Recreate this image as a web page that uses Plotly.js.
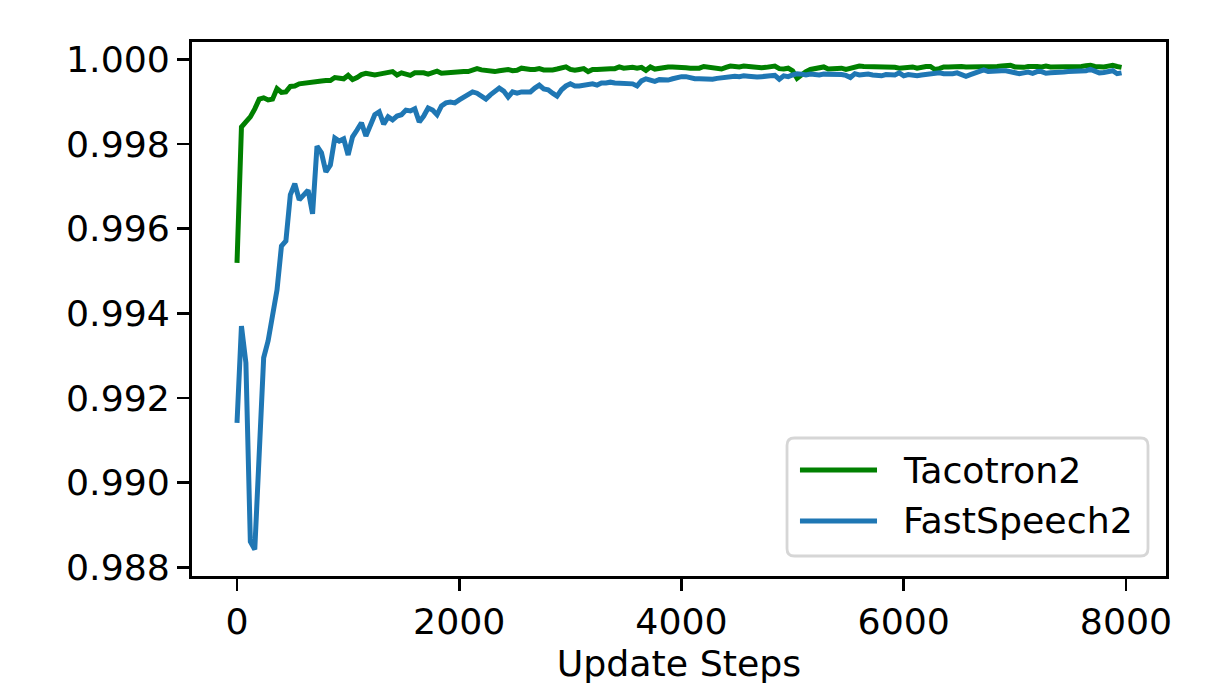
<!DOCTYPE html>
<html>
<head>
<meta charset="utf-8">
<script src="https://cdn.plot.ly/plotly-3.0.1.min.js"></script>
<style>html,body{margin:0;padding:0;background:#fff;}#chart{width:1219px;height:685px;}</style>
</head>
<body>
<div id="chart"></div>
<script>
const steps = [
0,40,80,120,160,200,240,280,320,360,
400,440,480,520,560,600,640,680,720,760,
800,840,880,920,960,1000,1040,1080,1120,1160,
1200,1240,1280,1320,1360,1400,1440,1480,1520,1560,
1600,1640,1680,1720,1760,1800,1840,1880,1920,1960,
2000,2040,2080,2120,2160,2200,2240,2280,2320,2360,
2400,2440,2480,2520,2560,2600,2640,2680,2720,2760,
2800,2840,2880,2920,2960,3000,3040,3080,3120,3160,
3200,3240,3280,3320,3360,3400,3440,3480,3520,3560,
3600,3640,3680,3720,3760,3800,3840,3880,3920,3960,
4000,4040,4080,4120,4160,4200,4240,4280,4320,4360,
4400,4440,4480,4520,4560,4600,4640,4680,4720,4760,
4800,4840,4880,4920,4960,5000,5040,5080,5120,5160,
5200,5240,5280,5320,5360,5400,5440,5480,5520,5560,
5600,5640,5680,5720,5760,5800,5840,5880,5920,5960,
6000,6040,6080,6120,6160,6200,6240,6280,6320,6360,
6400,6440,6480,6520,6560,6600,6640,6680,6720,6760,
6800,6840,6880,6920,6960,7000,7040,7080,7120,7160,
7200,7240,7280,7320,7360,7400,7440,7480,7520,7560,
7600,7640,7680,7720,7760,7800,7840,7880,7920,7960
];

const tacotron2 = [
0.99519,0.99840,0.99852,0.99864,0.99883,0.99906,0.99909,0.99904,0.99906,0.99931,
0.99922,0.99923,0.99936,0.99937,0.99942,0.99944,0.99945,0.99948,0.99949,0.99949,
0.99950,0.99950,0.99957,0.99955,0.99954,0.99962,0.99952,0.99957,0.99964,0.99967,
0.99966,0.99963,0.99965,0.99967,0.99969,0.99971,0.99963,0.99968,0.99965,0.99962,
0.99968,0.99968,0.99968,0.99965,0.99969,0.99972,0.99967,0.99968,0.99969,0.99971,
0.99971,0.99971,0.99971,0.99975,0.99978,0.99975,0.99973,0.99973,0.99971,0.99973,
0.99975,0.99976,0.99973,0.99974,0.99979,0.99977,0.99976,0.99976,0.99978,0.99975,
0.99974,0.99975,0.99977,0.99980,0.99982,0.99976,0.99974,0.99976,0.99978,0.99971,
0.99976,0.99976,0.99977,0.99979,0.99978,0.99978,0.99982,0.99979,0.99980,0.99981,
0.99979,0.99981,0.99974,0.99982,0.99977,0.99979,0.99980,0.99982,0.99982,0.99982,
0.99981,0.99980,0.99979,0.99979,0.99979,0.99983,0.99982,0.99979,0.99978,0.99977,
0.99981,0.99984,0.99983,0.99982,0.99984,0.99983,0.99982,0.99979,0.99980,0.99981,
0.99982,0.99984,0.99978,0.99977,0.99979,0.99973,0.99955,0.99965,0.99971,0.99976,
0.99979,0.99981,0.99982,0.99977,0.99978,0.99979,0.99979,0.99976,0.99979,0.99983,
0.99984,0.99983,0.99983,0.99983,0.99982,0.99982,0.99981,0.99982,0.99981,0.99979,
0.99981,0.99983,0.99982,0.99979,0.99982,0.99983,0.99983,0.99976,0.99978,0.99982,
0.99982,0.99983,0.99984,0.99983,0.99982,0.99982,0.99982,0.99982,0.99981,0.99982,
0.99983,0.99983,0.99984,0.99985,0.99986,0.99982,0.99980,0.99981,0.99983,0.99984,
0.99983,0.99982,0.99984,0.99982,0.99982,0.99982,0.99983,0.99983,0.99982,0.99984,
0.99983,0.99985,0.99986,0.99983,0.99982,0.99982,0.99984,0.99986,0.99983,0.99981
];

const fastspeech2 = [
0.99141,0.99370,0.99283,0.98861,0.98842,0.99078,0.99295,0.99335,0.99394,0.99455,
0.99559,0.99571,0.99680,0.99706,0.99668,0.99680,0.99691,0.99635,0.99795,0.99779,
0.99734,0.99750,0.99814,0.99807,0.99812,0.99774,0.99817,0.99833,0.99850,0.99819,
0.99845,0.99869,0.99876,0.99847,0.99864,0.99857,0.99866,0.99869,0.99880,0.99878,
0.99883,0.99852,0.99866,0.99885,0.99880,0.99869,0.99890,0.99897,0.99899,0.99897,
0.99904,0.99911,0.99918,0.99923,0.99920,0.99913,0.99906,0.99916,0.99923,0.99932,
0.99925,0.99911,0.99923,0.99920,0.99923,0.99923,0.99923,0.99932,0.99939,0.99930,
0.99928,0.99920,0.99913,0.99928,0.99937,0.99942,0.99937,0.99937,0.99939,0.99942,
0.99942,0.99939,0.99944,0.99944,0.99946,0.99944,0.99944,0.99944,0.99944,0.99942,
0.99937,0.99949,0.99954,0.99951,0.99948,0.99952,0.99951,0.99951,0.99954,0.99957,
0.99959,0.99959,0.99955,0.99954,0.99954,0.99954,0.99952,0.99953,0.99955,0.99957,
0.99959,0.99961,0.99960,0.99959,0.99961,0.99960,0.99958,0.99958,0.99959,0.99961,
0.99961,0.99962,0.99953,0.99961,0.99959,0.99963,0.99966,0.99965,0.99963,0.99965,
0.99964,0.99963,0.99965,0.99965,0.99965,0.99965,0.99964,0.99962,0.99957,0.99966,
0.99963,0.99964,0.99965,0.99963,0.99962,0.99961,0.99964,0.99964,0.99963,0.99968,
0.99961,0.99964,0.99963,0.99961,0.99963,0.99964,0.99965,0.99968,0.99968,0.99966,
0.99965,0.99966,0.99968,0.99965,0.99960,0.99964,0.99968,0.99970,0.99975,0.99971,
0.99972,0.99974,0.99973,0.99973,0.99971,0.99968,0.99966,0.99968,0.99970,0.99967,
0.99971,0.99971,0.99967,0.99968,0.99968,0.99968,0.99970,0.99971,0.99971,0.99971,
0.99972,0.99973,0.99976,0.99972,0.99968,0.99969,0.99971,0.99973,0.99966,0.99968
];

const seriesNames = ['Tacotron2', 'FastSpeech2'];
const xTicks = [0, 2000, 4000, 6000, 8000];
const yTicks = [0.988, 0.990, 0.992, 0.994, 0.996, 0.998, 1.000];
const xLabel = 'Update Steps';

const colors = ['#008000', '#1f77b4'];
const FONT = 'DejaVu Sans, Liberation Sans, sans-serif';
const FS = 36.3;

const traces = [
  {x: steps, y: tacotron2, name: seriesNames[0], type: 'scatter', mode: 'lines',
   line: {color: colors[0], width: 5}},
  {x: steps, y: fastspeech2, name: seriesNames[1], type: 'scatter', mode: 'lines',
   line: {color: colors[1], width: 5}}
];

// legend drawn as shapes + annotations (paper coordinates)
const L = {x0: 0.6109, x1: 0.9815, y0: 0.0375, y1: 0.2584, rx: 0.0075, ry: 0.0137};
const boxPath = `M ${L.x0 + L.rx},${L.y0} L ${L.x1 - L.rx},${L.y0} Q ${L.x1},${L.y0} ${L.x1},${L.y0 + L.ry} ` +
  `L ${L.x1},${L.y1 - L.ry} Q ${L.x1},${L.y1} ${L.x1 - L.rx},${L.y1} L ${L.x0 + L.rx},${L.y1} ` +
  `Q ${L.x0},${L.y1} ${L.x0},${L.y1 - L.ry} L ${L.x0},${L.y0 + L.ry} Q ${L.x0},${L.y0} ${L.x0 + L.rx},${L.y0} Z`;
const rowsY = [0.1985, 0.1030];

const shapes = [
  {type: 'path', xref: 'paper', yref: 'paper', path: boxPath,
   line: {color: '#d6d6d6', width: 2.8}, fillcolor: 'rgba(255,255,255,0.8)', layer: 'above'}
];
const annotations = [];
seriesNames.forEach((n, i) => {
  shapes.push({type: 'line', xref: 'paper', yref: 'paper', x0: 0.6242, x1: 0.7033,
    y0: rowsY[i], y1: rowsY[i], line: {color: colors[i], width: 5}, layer: 'above'});
  annotations.push({xref: 'paper', yref: 'paper', x: 0.7275, y: rowsY[i], xanchor: 'left', yanchor: 'middle',
    text: n, showarrow: false, font: {family: FONT, size: FS, color: '#000'}});
});

const layout = {
  width: 1219, height: 685,
  margin: {l: 192, r: 53, t: 42, b: 109},
  paper_bgcolor: '#fff', plot_bgcolor: '#fff',
  showlegend: false,
  font: {family: FONT, size: FS, color: '#000'},
  xaxis: {
    range: [-405, 8360], tickvals: xTicks, ticktext: xTicks.map(String),
    showgrid: false, zeroline: false, showline: true, mirror: true, linecolor: '#000', linewidth: 2.8,
    ticks: 'outside', ticklen: 12, tickwidth: 2.8, tickcolor: '#000',
    tickfont: {family: FONT, size: FS, color: '#000'},
    title: {text: xLabel, font: {family: FONT, size: FS, color: '#000'}, standoff: 14}
  },
  yaxis: {
    range: [0.987794, 1.000409], tickvals: yTicks, tickformat: '.3f',
    showgrid: false, zeroline: false, showline: true, mirror: true, linecolor: '#000', linewidth: 2.8,
    ticks: 'outside', ticklen: 12, tickwidth: 2.8, tickcolor: '#000',
    tickfont: {family: FONT, size: FS, color: '#000'}
  },
  shapes: shapes,
  annotations: annotations
};

Plotly.newPlot('chart', traces, layout, {displayModeBar: false, staticPlot: true});
</script>
</body>
</html>
